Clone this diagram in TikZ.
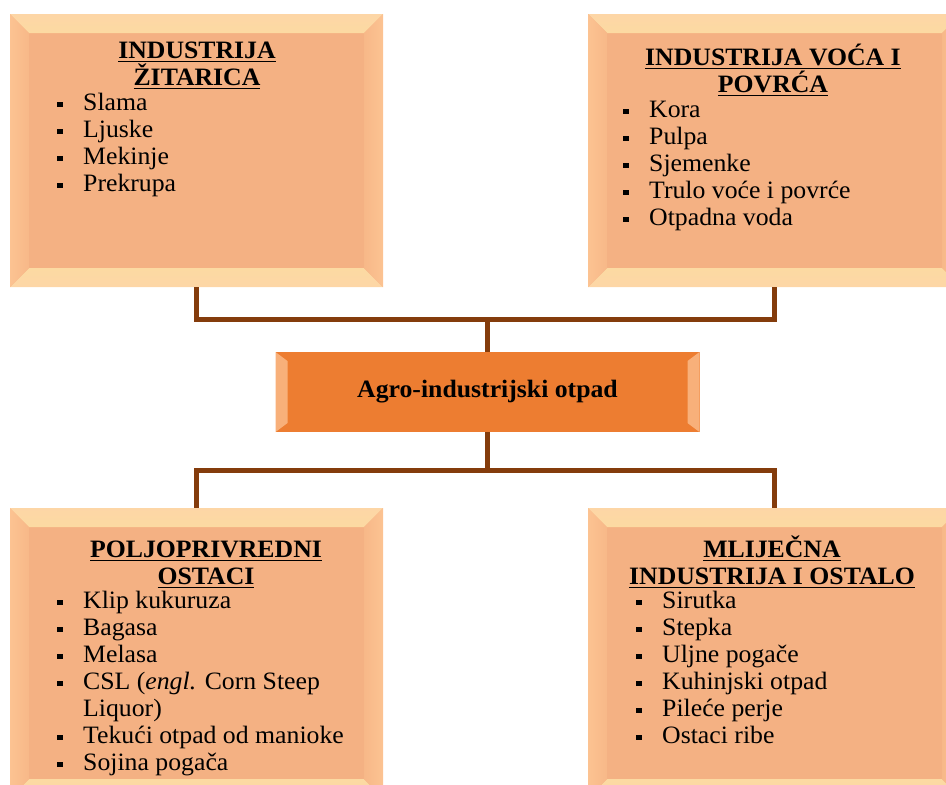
\documentclass[tikz,border=0pt]{standalone}
\usepackage{fontspec}
\setmainfont{Liberation Serif}[FakeStretch=1.03]
\usetikzlibrary{calc,positioning}
\definecolor{boxface}{HTML}{F4B183}
\definecolor{bevedge}{HTML}{FDD6A6}
\definecolor{bevlight}{HTML}{FFF3C6}
\definecolor{bevinner}{HTML}{FCDAA2}
\definecolor{bevside}{HTML}{FCC392}
\definecolor{bevsidein}{HTML}{F7B888}
\definecolor{hubface}{HTML}{ED7D31}
\definecolor{hubside}{HTML}{F8B07A}
\definecolor{linkbrown}{HTML}{843C0C}
\newcommand{\tstrut}{\rule{0pt}{24pt}}
\newcommand{\itm}[1]{\makebox[26pt][l]{\raisebox{3pt}{\rule{5.5pt}{5.5pt}}}#1}
\newcommand{\hd}[1]{\setbox0\hbox{\bfseries #1}\rlap{\smash{\rule[-4pt]{\wd0}{1.6pt}}}\box0}
\tikzset{
  bevel/.style={path picture={
      \path (path picture bounding box.north west) coordinate (p1)
            (path picture bounding box.north east) coordinate (p2)
            (path picture bounding box.south east) coordinate (p3)
            (path picture bounding box.south west) coordinate (p4);
      \path (p1) ++(#1,-#1) coordinate (q1)  (p2) ++(-#1,-#1) coordinate (q2)
            (p3) ++(-#1,#1) coordinate (q3)  (p4) ++(#1,#1) coordinate (q4);
      \shade[top color=bevedge, middle color=bevlight, bottom color=bevinner]
        (p1) -- (p2) -- (q2) -- (q1) -- cycle;
      \shade[top color=bevinner, middle color=bevlight, bottom color=bevedge]
        (p4) -- (p3) -- (q3) -- (q4) -- cycle;
      \shade[left color=bevside, right color=bevsidein]
        (p1) -- (q1) -- (q4) -- (p4) -- cycle;
      \shade[left color=bevsidein, right color=bevside]
        (p2) -- (q2) -- (q3) -- (p3) -- cycle;
  }},
  hubbevel/.style={path picture={
      \path (path picture bounding box.north west) coordinate (p1)
            (path picture bounding box.north east) coordinate (p2)
            (path picture bounding box.south east) coordinate (p3)
            (path picture bounding box.south west) coordinate (p4);
      \fill[hubside] (p1) -- ++(12pt,-9pt) -- ($(p4)+(12pt,9pt)$) -- (p4) -- cycle;
      \fill[hubside] (p2) -- ++(-12pt,-9pt) -- ($(p3)+(-12pt,9pt)$) -- (p3) -- cycle;
  }},
  sidebox/.style={rectangle, fill=boxface, inner sep=0pt,
    minimum width=373pt, minimum height=273pt, bevel=19pt},
  hub/.style={rectangle, fill=hubface, inner sep=0pt,
    minimum width=424pt, minimum height=80pt, hubbevel,
    font=\fontsize{25}{27}\selectfont\bfseries},
  head/.style={anchor=north, align=center, inner sep=0pt},
  items/.style={anchor=north west, align=left, inner sep=0pt},
  link/.style={draw=linkbrown, line width=5pt}
}
\begin{document}
\begin{tikzpicture}[x=1pt, y=-1pt,
    font={\fontsize{25}{27}\selectfont\lineskiplimit=-30pt\relax}]
  \useasboundingbox (0,0) rectangle (946,785);
  \clip (0,0) rectangle (946,785);

  % boxes
  \node[sidebox] (cereal) at (196.5,150.5) {};
  \node[sidebox] (fruit) at (774.5,150.5) {};
  \node[sidebox, minimum height=290pt] (farm) at (196.5,653) {};
  \node[sidebox, minimum height=290pt] (dairy) at (774.5,653) {};
  \node[hub] (hub) at (487.5,392) {Agro-industrijski otpad};

  % titles
  \node[head] (cerealtitle) at (197,34) {\tstrut\hd{INDUSTRIJA}\\\hd{ŽITARICA}};
  \node[head] (fruittitle) at (773,41) {\tstrut\hd{INDUSTRIJA VOĆA I}\\\hd{POVRĆA}};
  \node[head] (farmtitle) at (206,533) {\tstrut\hd{POLJOPRIVREDNI}\\\hd{OSTACI}};
  \node[head] (dairytitle) at (772,533) {\tstrut\hd{MLIJEČNA}\\\hd{INDUSTRIJA I OSTALO}};

  % lists
  \node[items] (cereallist) at (57,86)
    {\tstrut\itm{Slama}\\\itm{Ljuske}\\\itm{Mekinje}\\\itm{Prekrupa}};
  \node[items] (fruitlist) at (623,93)
    {\tstrut\itm{Kora}\\\itm{Pulpa}\\\itm{Sjemenke}\\\itm{Trulo voće i povrće}\\\itm{Otpadna voda}};
  \node[items] (farmlist) at (57,584)
    {\tstrut\itm{Klip kukuruza}\\\itm{Bagasa}\\\itm{Melasa}\\\itm{CSL (\textit{engl.} Corn Steep}\\
     \hspace*{26pt}Liquor)\\\itm{Tekući otpad od manioke}\\\itm{Sojina pogača}};
  \node[items] (dairylist) at (636,584)
    {\tstrut\itm{Sirutka}\\\itm{Stepka}\\\itm{Uljne pogače}\\\itm{Kuhinjski otpad}\\\itm{Pileće perje}\\\itm{Ostaci ribe}};

  % connectors
  \coordinate (topbar) at (487.5,319.5);
  \coordinate (botbar) at (487.5,470.5);
  \draw[link] (cereal.south) |- (topbar) -| (fruit.south);
  \draw[link] (topbar) -- (hub.north);
  \draw[link] (hub.south) -- (botbar);
  \draw[link] (farm.north) |- (botbar) -| (dairy.north);
\end{tikzpicture}
\end{document}
